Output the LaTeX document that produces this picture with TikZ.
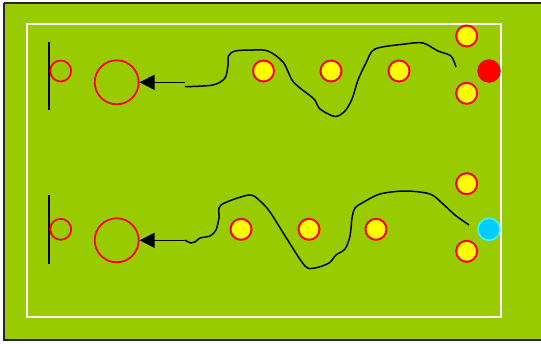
\documentclass[tikz,border=0pt]{standalone}
\usetikzlibrary{arrows.meta}
\definecolor{pitch}{HTML}{99CC00}
\definecolor{cone}{HTML}{FFFF00}
\definecolor{redc}{HTML}{FF0000}
\definecolor{cyanf}{HTML}{00CCFF}
\definecolor{cyans}{HTML}{33FFFF}
\tikzset{
  cone/.style={circle,draw=redc,fill=cone,line width=2pt,minimum size=21pt,inner sep=0pt},
  ring/.style={circle,draw=redc,line width=1.8pt,minimum size=21pt,inner sep=0pt},
  bigring/.style={circle,draw=redc,line width=1.8pt,minimum size=44pt,inner sep=0pt},
  player/.style={circle,line width=1.5pt,minimum size=22pt,inner sep=0pt},
  run/.style={line width=1.5pt,black},
  pass/.style={line width=1.5pt,black,-{Triangle[length=15pt,width=15pt]}},
  post/.style={line width=1.8pt,black}
}
\begin{document}
\begin{tikzpicture}[x=1pt,y=-1pt]
\useasboundingbox (0,0) rectangle (541,343);
\fill[pitch] (4,3) rectangle (541,340);
\draw[line width=1.5pt,black!85] (4,3) -- (4,340) -- (545,340) (4,3) -- (545,3);
\draw[white,line width=2pt] (27,24) rectangle (500.5,316.5);
% top row
\coordinate (pt1) at (49,42);
\coordinate (pt2) at (49,110);
\draw[post] (pt1) -- (pt2);
\node[ring] (g1) at (60.7,71) {};
\node[bigring] (b1) at (116.7,82.3) {};
\coordinate (a1) at (185,82.3);
\draw[pass] (a1) -- (b1);
\node[cone] (c11) at (263.5,71) {};
\node[cone] (c12) at (331,71) {};
\node[cone] (c13) at (399,71) {};
\node[cone] (c14) at (466.7,36) {};
\node[cone] (c15) at (466.7,93.3) {};
\node[player,fill=redc,draw=redc] (p1) at (489,71) {};
\draw[run] plot[smooth,tension=0.5] coordinates {(185,86.7) (213,85) (225,78) (228,65) (228.5,56) (235,51) (253,50) (268,51) (283,62) (292,80) (300,88) (314,99) (320,109) (335,116.5) (345,111) (352,99) (358,80) (366,63) (375,49) (405,44) (423,43) (438,51) (451,56) (456,67)};
% bottom row
\coordinate (pb1) at (49,195);
\coordinate (pb2) at (49,263.5);
\draw[post] (pb1) -- (pb2);
\node[ring] (g2) at (60.7,229.3) {};
\node[bigring] (b2) at (116.7,240.3) {};
\coordinate (a2) at (185,240.3);
\draw[pass] (a2) -- (b2);
\node[cone] (c21) at (241,229.3) {};
\node[cone] (c22) at (309,229.3) {};
\node[cone] (c23) at (376,229.3) {};
\node[cone] (c24) at (466.7,183.7) {};
\node[cone] (c25) at (466.7,251.3) {};
\node[player,fill=cyanf,draw=cyans] (p2) at (489,229.3) {};
\draw[run] plot[smooth,tension=0.5] coordinates {(185,240.3) (191,243) (195,242) (200,238) (210,236) (216,230) (219,218) (221,205) (249,195) (260,201) (270,212) (287,239) (305,266) (315,268) (329,263) (336,255) (345,249) (350,236) (352,218) (355,208) (362,203) (380,194) (405,191) (430,194) (443,204) (455,215) (469,225)};
\end{tikzpicture}
\end{document}
